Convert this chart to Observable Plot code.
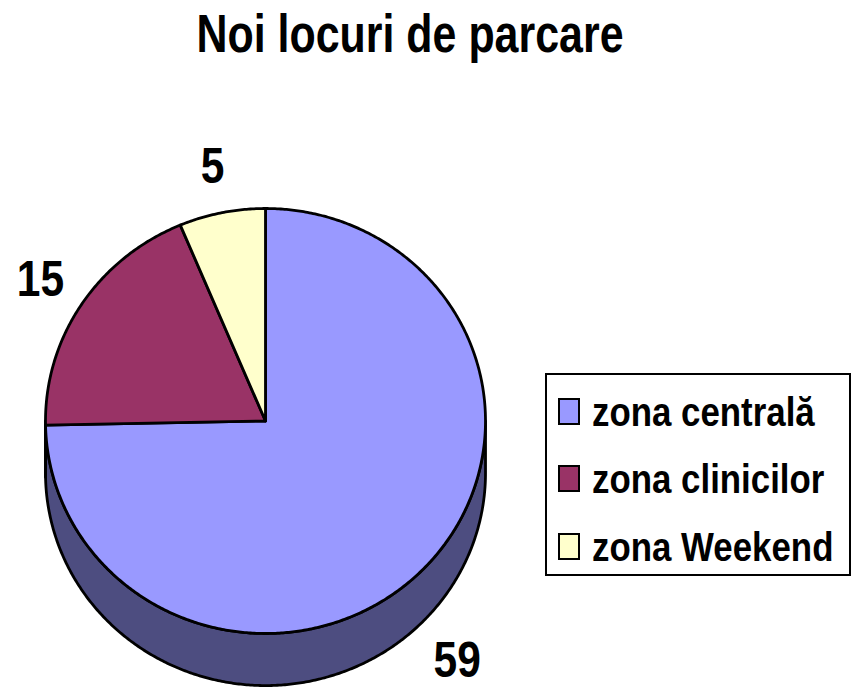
<!DOCTYPE html>
<html><head><meta charset="utf-8">
<script src="https://cdn.jsdelivr.net/npm/d3@7"></script>
<script src="https://cdn.jsdelivr.net/npm/@observablehq/plot@0.6"></script>
<style>
body{margin:0;background:#fff;}
#wrap{position:relative;width:857px;height:688px;font-family:"Liberation Sans Narrow","Arial Narrow","Liberation Sans",Arial,sans-serif;font-weight:bold;color:#000;}
#chart{position:absolute;left:0;top:0;}
#title{position:absolute;left:410px;top:7px;transform:translateX(-50%) scaleX(0.81);font-size:53px;line-height:53px;white-space:nowrap;}
#legend{position:absolute;left:545px;top:373px;width:306px;height:203px;border:2px solid #000;box-sizing:border-box;background:#fff;}
.sw{position:absolute;left:11px;width:22px;height:27px;border:2px solid #000;box-sizing:border-box;}
.lt{position:absolute;left:45px;font-size:41px;line-height:41px;white-space:nowrap;transform:scaleX(0.85);transform-origin:0 50%;}
</style>
</head><body>
<div id="wrap">
  <div id="chart"></div>
  <div id="title"></div>
  <div id="legend"></div>
</div>
<script>
const title = "Noi locuri de parcare";
const categories = ["zona centrală", "zona clinicilor", "zona Weekend"];
const values = [59, 15, 5];
const topColors = ["#9999FF", "#993366", "#FFFFCC"];
const sideColors = ["#4D4D80", "#4D1A33", "#808066"];

const depth = 0.245;
const pie = d3.pie().sort(null).value(d => d)(values);

const shapes = [];
const labels = [];
function arcPts(a0, a1, dy) {
  const n = Math.max(2, Math.ceil((a1 - a0) / (Math.PI / 360)));
  const pts = [];
  for (let k = 0; k <= n; k++) {
    const a = a0 + (a1 - a0) * k / n;
    pts.push([Math.sin(a), Math.cos(a) - dy]);
  }
  return pts;
}
// side bands (front half only)
pie.forEach((p, i) => {
  const s = Math.max(p.startAngle, Math.PI / 2), e = Math.min(p.endAngle, 3 * Math.PI / 2);
  if (e > s) {
    const top = arcPts(s, e, 0), bot = arcPts(s, e, depth).reverse();
    [...top, ...bot].forEach(([x, y]) => shapes.push({id: "side" + i, fill: sideColors[i], x, y}));
  }
});
// top faces
pie.forEach((p, i) => {
  const pts = [[0, 0], ...arcPts(p.startAngle, p.endAngle, 0)];
  pts.forEach(([x, y]) => shapes.push({id: "top" + i, fill: topColors[i], x, y}));
  const mid = (p.startAngle + p.endAngle) / 2;
  const cy = Math.cos(mid);
  labels.push({x: 1.22 * Math.sin(mid), y: 1.22 * cy - (cy < 0 ? depth * 1.12 : 0), text: String(values[i])});
});

const chart = Plot.plot({
  width: 857, height: 688,
  margin: 0,
  x: {domain: [-1, 1], range: [45, 485], axis: null},
  y: {domain: [-1, 1], range: [633, 208], axis: null},
  color: {type: "identity"},
  marks: [
    Plot.line(shapes, {x: "x", y: "y", z: "id", fill: "fill", stroke: "#000", strokeWidth: 2.8, curve: "linear-closed", strokeLinejoin: "round"}),
    Plot.text(labels, {x: "x", y: "y", text: "text", fontSize: 50, fontWeight: "bold", fontFamily: "'Liberation Sans Narrow','Arial Narrow','Liberation Sans',Arial,sans-serif", fill: "#000", textAnchor: "middle", lineAnchor: "middle"})
  ]
});
// condense the data labels horizontally (narrow bold face)
chart.querySelectorAll("text").forEach(t => {
  const tr = t.getAttribute("transform");
  if (tr) t.setAttribute("transform", tr + " scale(0.85,1)");
  else {
    const x = +t.getAttribute("x") || 0, y = +t.getAttribute("y") || 0;
    t.setAttribute("transform", `translate(${x},${y}) scale(0.85,1) translate(${-x},${-y})`);
  }
});
document.getElementById("chart").appendChild(chart);
document.getElementById("title").textContent = title;

const legend = document.getElementById("legend");
const rowTops = [23, 90, 158];
categories.forEach((c, i) => {
  const sw = document.createElement("div");
  sw.className = "sw";
  sw.style.top = rowTops[i] + "px";
  sw.style.background = topColors[i];
  legend.appendChild(sw);
  const t = document.createElement("div");
  t.className = "lt";
  t.style.top = (rowTops[i] - 6) + "px";
  t.textContent = c;
  legend.appendChild(t);
});
</script>
</body></html>
